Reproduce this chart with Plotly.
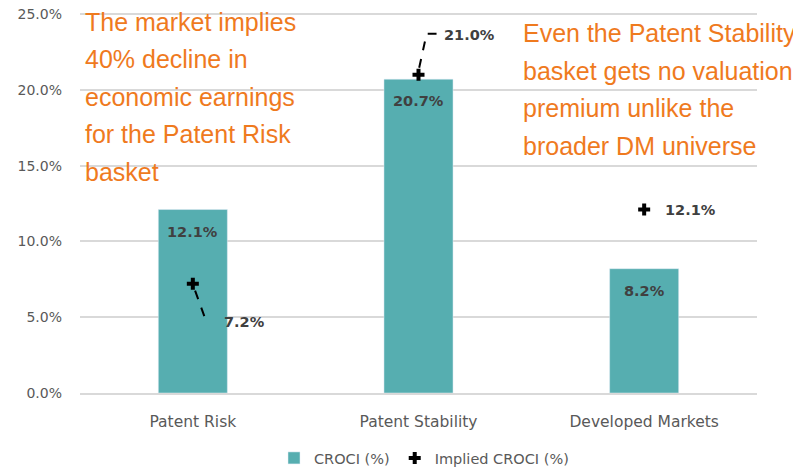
import plotly.graph_objects as go

categories = ["Patent Risk", "Patent Stability", "Developed Markets"]
croci = [12.1, 20.7, 8.2]
implied_croci = [7.2, 21.0, 12.1]
y_ticks = [0, 5, 10, 15, 20, 25]

left_note = ["The market implies", "40% decline in", "economic earnings",
             "for the Patent Risk", "basket"]
right_note = ["Even the Patent Stability", "basket gets no valuation",
              "premium unlike the", "broader DM universe"]

TEAL = "#56AEB0"
ORANGE = "#EF7A1E"
LABEL = "#404040"
AXIS_TXT = "#595959"
GRID = "#D9D9D9"

# the page body has an 8px margin, so the figure is sized to fit the window
PAGE_OFF = 8
W, H = 801 - PAGE_OFF, 467 - PAGE_OFF
ML, MR, MB = 72, 44, 74
TOP25 = 6          # pixel (figure) where 25% sits
MT = 3             # actual top margin, leaves room so the 25% gridline is drawn
plot_w = W - ML - MR
ppu = (H - MB - TOP25) / 25.0      # pixels per percentage point
y_top = 25 + (TOP25 - MT) / ppu
plot_h = H - MT - MB

def px_x(p):
    # p: pixel x in the window
    return (p - PAGE_OFF - ML) / plot_w

def px_y(p):
    # p: pixel y in the window
    return (H - MB - (p - PAGE_OFF)) / plot_h

fig = go.Figure()
fig.add_trace(go.Bar(
    x=list(range(len(categories))), y=croci, name="CROCI (%)",
    marker=dict(color=TEAL), width=0.306,
))
fig.add_trace(go.Scatter(
    x=list(range(len(categories))), y=implied_croci, name="Implied CROCI (%)",
    mode="markers",
    marker=dict(symbol="cross", size=10, color="black"),
))

val_font = dict(family="DejaVu Sans", size=14.5, color=LABEL, weight="bold")

# bar value labels inside the bar, near the top
for i, v in enumerate(croci):
    fig.add_annotation(x=i, y=v, xref="x", yref="y", text=f"{v:.1f}%",
                       showarrow=False, yshift=-22, font=val_font)

# Patent Risk: dashed leader line down-right
fig.add_shape(type="line", xref="x", yref="y",
              x0=0 + 0.01, y0=implied_croci[0] - 0.45,
              x1=0 + 0.06, y1=implied_croci[0] - 2.5,
              line=dict(color="black", width=2, dash="dash"))
fig.add_annotation(x=0 + 0.13, y=implied_croci[0] - 2.5, xref="x", yref="y",
                   text=f"{implied_croci[0]:.1f}%", showarrow=False, xanchor="left",
                   font=val_font)
# Patent Stability: elbow leader line up then right
fig.add_shape(type="path", xref="x", yref="y",
              path=(f"M {1 + 0.003},{implied_croci[1] + 0.45} "
                    f"L {1 + 0.036},{implied_croci[1] + 2.7} "
                    f"L {1 + 0.08},{implied_croci[1] + 2.7}"),
              line=dict(color="black", width=2, dash="dash"))
fig.add_annotation(x=1 + 0.106, y=implied_croci[1] + 2.6, xref="x", yref="y",
                   text=f"{implied_croci[1]:.1f}%", showarrow=False, xanchor="left",
                   font=val_font)
# Developed Markets: label to the right
fig.add_annotation(x=2 + 0.085, y=implied_croci[2], xref="x", yref="y",
                   text=f"{implied_croci[2]:.1f}%", showarrow=False, xanchor="left",
                   font=val_font)

# orange commentary text
line_gap = 37.5
note_font = dict(family="Liberation Sans", size=25, color=ORANGE)
for k, t in enumerate(left_note):
    fig.add_annotation(x=px_x(83), y=px_y(22 + k * line_gap), xref="paper", yref="paper",
                       xanchor="left", yanchor="middle", text=t, showarrow=False,
                       font=note_font)
for k, t in enumerate(right_note):
    fig.add_annotation(x=px_x(521), y=px_y(33 + k * line_gap), xref="paper", yref="paper",
                       xanchor="left", yanchor="middle", text=t, showarrow=False,
                       font=note_font)

fig.update_layout(
    width=W, height=H,
    margin=dict(l=ML, r=MR, t=MT, b=MB, autoexpand=False),
    plot_bgcolor="white", paper_bgcolor="white",
    font=dict(family="DejaVu Sans", size=12, color=AXIS_TXT),
    showlegend=True,
    legend=dict(orientation="h", x=px_x(424), xanchor="center",
                y=px_y(458), yanchor="middle",
                font=dict(family="DejaVu Sans", size=14.5, color=AXIS_TXT),
                itemwidth=30, tracegroupgap=0),
    xaxis=dict(tickmode="array", tickvals=list(range(len(categories))),
               ticktext=categories, range=[-0.5, 2.5], showgrid=False,
               showline=True, linecolor=GRID, linewidth=2, automargin=False,
               ticks="", ticklabelstandoff=13,
               tickfont=dict(family="DejaVu Sans", size=15.5, color=AXIS_TXT),
               zeroline=False),
    yaxis=dict(range=[0, y_top], tickvals=y_ticks,
               ticktext=[f"{v:.1f}%" for v in y_ticks],
               showgrid=True, gridcolor=GRID, gridwidth=2, automargin=False,
               zeroline=False, ticks="", ticklabelstandoff=17,
               ticklabeloverflow="allow",
               tickfont=dict(family="DejaVu Sans", size=14, color=AXIS_TXT)),
)

fig.write_html("out.html")
